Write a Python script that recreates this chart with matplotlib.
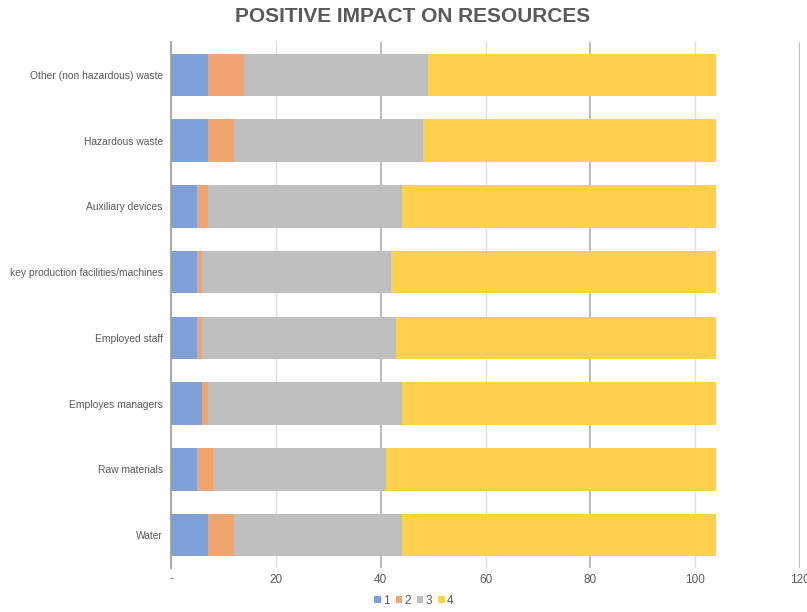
import matplotlib
matplotlib.use("Agg")
import matplotlib.pyplot as plt
from matplotlib.patches import Patch
import numpy as np

plt.rcParams['font.family'] = ['Liberation Sans', 'DejaVu Sans']

categories = ["Other (non hazardous) waste", "Hazardous waste", "Auxiliary devices",
              "key production facilities/machines", "Employed staff", "Employes managers",
              "Raw materials", "Water"]
s1 = [7, 7, 5, 5, 5, 6, 5, 7]
s2 = [7, 5, 2, 1, 1, 1, 3, 5]
s3 = [35, 36, 37, 36, 37, 37, 33, 32]
s4 = [55, 56, 60, 62, 61, 60, 63, 60]
series_names = ["1", "2", "3", "4"]
colors = ["#7F9FD7", "#F0A46F", "#BFBFBF", "#FDD14B"]
xticks = [0, 20, 40, 60, 80, 100, 120]
xticklabels = ["-", "20", "40", "60", "80", "100", "120"]

txt = "#595959"

fig = plt.figure(figsize=(8.07, 6.12), dpi=100)
ax = fig.add_axes([171 / 807, 1 - 568 / 612, 629 / 807, 526 / 612])

y = np.arange(len(categories))
left = np.zeros(len(categories))
for vals, c in zip([s1, s2, s3, s4], colors):
    ax.barh(y, vals, left=left, height=0.65, color=c, edgecolor="none", zorder=3)
    left += np.array(vals)

ax.set_ylim(len(categories) - 0.5, -0.5)
ax.set_xlim(0, 120)
ax.set_yticks(y)
ax.set_yticklabels(categories, fontsize=7.4, color=txt)
ax.set_xticks(xticks)
ax.set_xticklabels(xticklabels, fontsize=8.5, color=txt)
ax.tick_params(axis="y", length=0, pad=6)
ax.tick_params(axis="x", length=0, pad=4)

ax.grid(axis="x", zorder=0, linewidth=1.0)
for i, gl in enumerate(ax.xaxis.get_gridlines()):
    gl.set_color("#b5b5b5" if i % 2 == 0 else "#dedede")
    gl.set_linewidth(1.3 if i % 2 == 0 else 1.0)

for s in ["top", "right", "bottom"]:
    ax.spines[s].set_visible(False)
ax.spines["left"].set_color("#aaaaaa")
ax.spines["left"].set_linewidth(1.5)

fig.text(413 / 807, 1 - 17 / 612, "POSITIVE IMPACT ON RESOURCES", ha="center", va="center",
         fontsize=15, fontweight="bold", color=txt)

handles = [Patch(facecolor=c, edgecolor="none") for c in colors]
fig.legend(handles, series_names, loc="center", bbox_to_anchor=(414 / 807, 1 - 601 / 612),
           ncol=4, frameon=False, fontsize=8.5, handlelength=0.55, handleheight=0.55,
           handletextpad=0.2, columnspacing=0.5, labelcolor=txt)

fig.savefig("out.png", dpi=100)
